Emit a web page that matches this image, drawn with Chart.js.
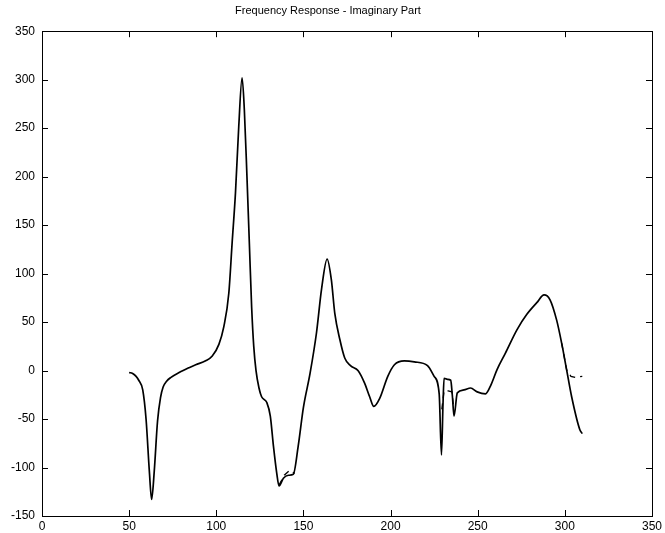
<!DOCTYPE html>
<html>
<head>
<meta charset="utf-8">
<script src="https://cdn.jsdelivr.net/npm/chart.js@4/dist/chart.umd.min.js"></script>
<style>
html,body{margin:0;padding:0;background:#fff;}
canvas{display:block;}
</style>
</head>
<body>
<canvas id="c" width="665" height="533"></canvas>
<script>
const chartTitle = "Frequency Response - Imaginary Part";
const xTicks = [0, 50, 100, 150, 200, 250, 300, 350];
const yTicks = [-150, -100, -50, 0, 50, 100, 150, 200, 250, 300, 350];

// measured response (solid)
const measX = [50, 52, 54, 55.5, 57.8, 59.7, 61.6, 62.9, 64.4, 66.3, 68, 69.5, 71.5, 74, 78.7, 84.4, 88.2, 93.9, 97.7,
  101.5, 104.3, 107.2, 109.1, 111, 112.9, 114.8, 116.1, 117.6, 119, 120.3, 121.5, 122.8, 124.5, 126, 129,
  131, 132.8, 134.7, 136, 138.5, 141.4, 144.2, 147, 150, 153.8, 157.5, 160.4, 163.6, 166, 168, 170.9,
  173.7, 177, 181.3, 185.1, 188, 190.4, 193.7, 198.4, 202.2, 207.9, 213.6, 221.2, 225, 227.9, 229.2,
  230.1, 230.7, 232.6, 234.5, 235.5, 236.4, 238.3, 242.1, 245.9, 249.7, 254.5, 257.3, 261.1, 265.9,
  272.5, 278.2, 283.9, 288.1, 291.5, 295.3, 298.2, 301, 303.9, 308.6, 310];
const measY = [-2, -3, -6, -10, -20, -50, -104, -133, -104, -52, -28, -17, -11, -7, -2, 3, 6, 10, 15,
  27, 45, 80, 132, 183, 252, 302, 269, 200, 130, 65, 25, 0, -18, -27, -33,
  -47, -78, -106, -119, -111, -108, -107, -78, -38, -3, 39, 84, 115, 94, 59, 32,
  13, 5, 0, -13, -27, -37, -29, -6, 6, 10, 9, 5, -6, -24, -87,
  -34, -8, -9, -10, -27, -47, -23, -20, -18, -22, -24, -16, 1, 18,
  42, 58, 70, 78, 73, 52, 28, 1, -27, -61, -65];

// model estimate (dashed), null = gap
const estX = [136, 139, 142, 145, 146, 229.4, 230.7, 233, 235.2, 236, 237, 298.2, 301, 303.5, 306, 310];
const estY = [-118, -108, -103, -106, null, -40, -21, -21, -22, -35, null, 28, 1, -6, -7, -6];

const measData = measX.map((x, i) => ({x: x, y: measY[i]}));
const estData = estX.map((x, i) => ({x: x, y: estY[i]}));

const framePlugin = {
  id: 'frame',
  afterDraw(chart) {
    const {ctx, chartArea: a, scales} = chart;
    ctx.save();
    ctx.strokeStyle = '#000';
    ctx.lineWidth = 1;
    ctx.strokeRect(Math.round(a.left) + 0.5, Math.round(a.top) + 0.5,
      Math.round(a.right - a.left), Math.round(a.bottom - a.top));
    const L = 6;
    ctx.beginPath();
    xTicks.forEach(v => {
      const px = Math.round(scales.x.getPixelForValue(v)) + 0.5;
      ctx.moveTo(px, a.bottom); ctx.lineTo(px, a.bottom - L);
      ctx.moveTo(px, a.top); ctx.lineTo(px, a.top + L);
    });
    yTicks.forEach(v => {
      const py = Math.round(scales.y.getPixelForValue(v)) + 0.5;
      ctx.moveTo(a.left, py); ctx.lineTo(a.left + L, py);
      ctx.moveTo(a.right, py); ctx.lineTo(a.right - L, py);
    });
    ctx.stroke();
    ctx.restore();
  }
};

new Chart(document.getElementById('c'), {
  type: 'line',
  data: {
    datasets: [
      {data: measData, borderColor: '#000', borderWidth: 1.7, pointRadius: 0, cubicInterpolationMode: 'monotone', fill: false},
      {data: estData, borderColor: '#000', borderWidth: 1.3, borderDash: [6, 5], pointRadius: 0, tension: 0, fill: false, spanGaps: false}
    ]
  },
  options: {
    responsive: false,
    animation: false,
    layout: {padding: {left: 0, right: 9, top: 0, bottom: 0}},
    plugins: {
      legend: {display: false},
      tooltip: {enabled: false},
      title: {
        display: true, text: chartTitle, color: '#000',
        font: {family: "'Liberation Sans', Arial, sans-serif", size: 11, weight: 'normal'},
        padding: {top: 4, bottom: 14}
      }
    },
    scales: {
      x: {
        type: 'linear', min: 0, max: 350,
        grid: {display: false, drawTicks: false},
        border: {display: false},
        ticks: {stepSize: 50, color: '#000', padding: 3, maxRotation: 0,
          font: {family: "'Liberation Sans', Arial, sans-serif", size: 12}},
        afterFit(s) { s.height = 17; }
      },
      y: {
        type: 'linear', min: -150, max: 350,
        grid: {display: false, drawTicks: false},
        border: {display: false},
        ticks: {stepSize: 50, color: '#000', padding: 7,
          font: {family: "'Liberation Sans', Arial, sans-serif", size: 12}},
        afterFit(s) { s.width = 42; }
      }
    }
  },
  plugins: [framePlugin]
});
</script>
</body>
</html>
